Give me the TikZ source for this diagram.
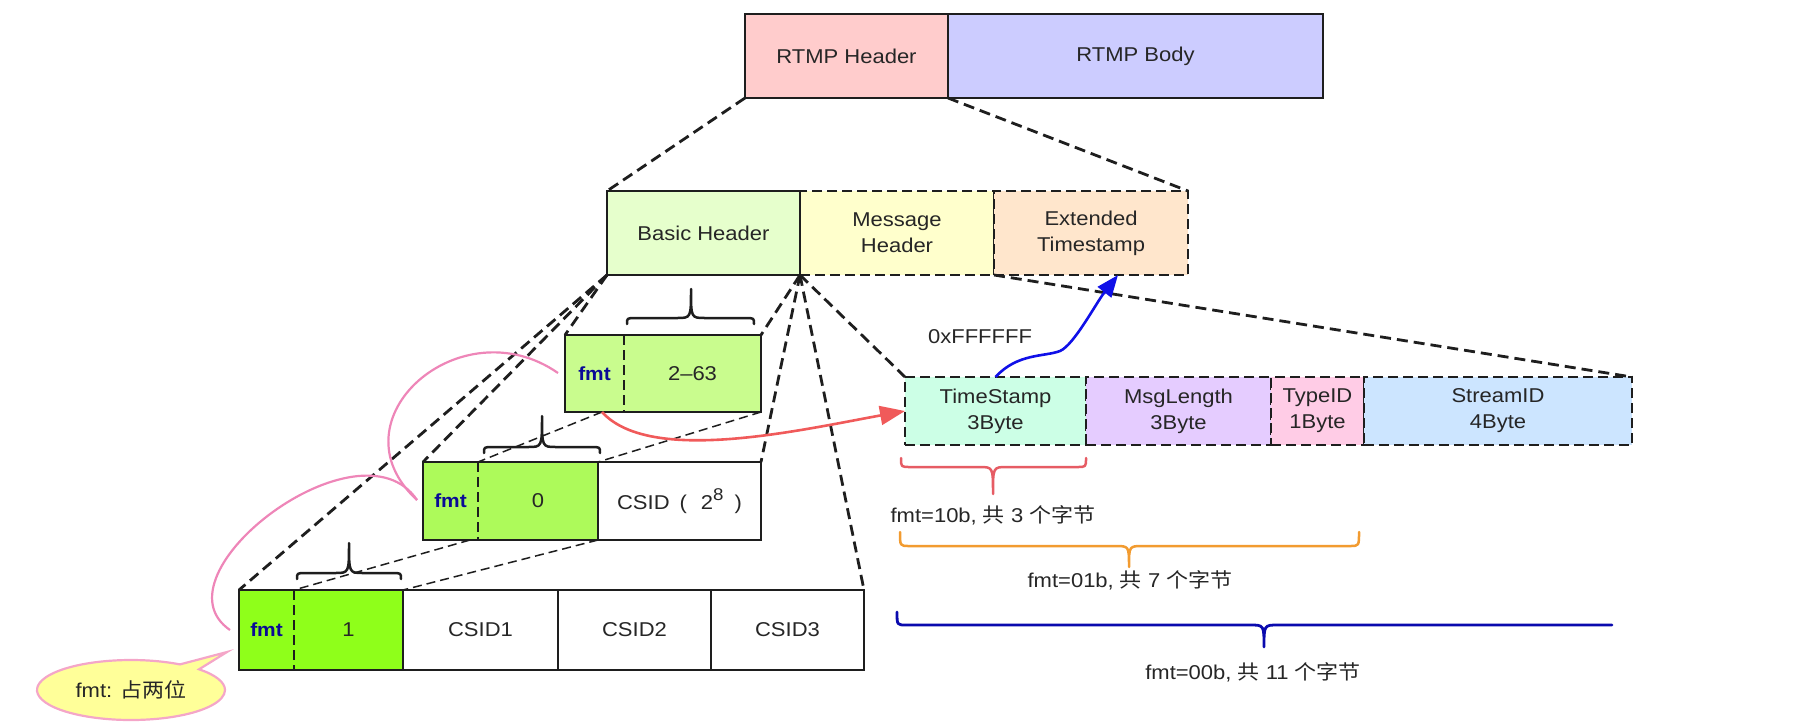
\documentclass[tikz,border=0pt]{standalone}
\usepackage{fontspec}
\setmainfont{Liberation Sans}[FakeStretch=1.1]
\newfontfamily\cjk{Noto Sans CJK SC}[FakeStretch=1.1]
\usetikzlibrary{arrows.meta,calc,shapes.callouts}

\definecolor{ink}{HTML}{262626}
\definecolor{edge}{HTML}{1E1E1E}
\definecolor{fmtblue}{HTML}{0A0A96}
\definecolor{hdrc}{HTML}{FFCCCC}
\definecolor{bodyc}{HTML}{CCCCFF}
\definecolor{bhc}{HTML}{E6FFCC}
\definecolor{mhc}{HTML}{FFFFCC}
\definecolor{etc}{HTML}{FFE6CC}
\definecolor{tsc}{HTML}{CCFFE6}
\definecolor{mlc}{HTML}{E5CCFF}
\definecolor{tic}{HTML}{FFCCE6}
\definecolor{sic}{HTML}{CCE5FF}
\definecolor{gtwo}{HTML}{C9FC8E}
\definecolor{gzero}{HTML}{ADFA5A}
\definecolor{gone}{HTML}{8FFF1A}
\definecolor{arrowred}{HTML}{F05A5A}
\definecolor{arrowblue}{HTML}{1010E8}
\definecolor{loopink}{HTML}{EE86B8}
\definecolor{bracered}{HTML}{E65C64}
\definecolor{braceorange}{HTML}{F29B30}
\definecolor{braceblue}{HTML}{0A0AAE}
\definecolor{bubblefill}{HTML}{FFFF99}
\definecolor{bubbleedge}{HTML}{F4A6C8}

\newcommand\boxfont{\fontsize{20}{26}\selectfont}
\newcommand\fmtfont{\fontsize{19}{22}\selectfont\bfseries}

% curly brace: style, left x, tip x, right x, end y, arm y, tip y
\newcommand\curly[7]{%
  \draw[#1] (#2,#5) .. controls (#2,#6) .. ({#2+9},#6) -- ({#3-14},#6)
    .. controls (#3,#6) .. (#3,#7) .. controls (#3,#6) .. ({#3+14},#6)
    -- ({#4-9},#6) .. controls (#4,#6) .. (#4,#5);}

\begin{document}
\begin{tikzpicture}[x=1pt,y=-1pt,
  cell/.style={anchor=north west, inner sep=0pt, outer sep=0pt, align=center,
    font=\boxfont, text=ink},
  solidframe/.style={draw=edge, line width=2.9pt},
  dashframe/.style={draw=edge, line width=2.9pt, dash pattern=on 10pt off 5pt},
  guide/.style={draw=edge, line width=2.8pt, dash pattern=on 11pt off 6pt},
  thinguide/.style={draw=edge, line width=1.5pt, dash pattern=on 9pt off 5pt},
  fmtcell/.style={cell, font=\fmtfont, text=fmtblue},
  bracepen/.style={line width=2.5pt, line join=round, line cap=round},
  pinkline/.style={draw=loopink, line width=2.2pt},
]
\useasboundingbox (0,0) rectangle (1793,724);

% ---- RTMP message ----
\node[cell, fill=hdrc, solidframe, minimum width=203pt, minimum height=84pt] (hdr) at (745,14) {RTMP Header};
\node[cell, fill=bodyc, solidframe, minimum width=375pt, minimum height=84pt] (body) at (948,14) {RTMP Body};

% ---- chunk header ----
\node[cell, fill=mhc, dashframe, minimum width=194pt, minimum height=84pt] (MH) at (800,191) {Message\\Header};
\node[cell, fill=etc, dashframe, minimum width=194pt, minimum height=84pt] (ET) at (994,191) {Extended\\Timestamp};
\node[cell, fill=bhc, solidframe, minimum width=193pt, minimum height=84pt] (BH) at (607,191) {Basic Header};

% ---- message header fields ----
\node[cell, fill=tsc, dashframe, minimum width=181pt, minimum height=68pt] (TS) at (905,377) {TimeStamp\\3Byte};
\node[cell, fill=mlc, dashframe, minimum width=185pt, minimum height=68pt] (ML) at (1086,377) {MsgLength\\3Byte};
\node[cell, fill=tic, dashframe, minimum width=93pt, minimum height=68pt] (TI) at (1271,377) {TypeID\\1Byte};
\node[cell, fill=sic, dashframe, minimum width=268pt, minimum height=68pt] (SI) at (1364,377) {StreamID\\4Byte};

% ---- basic header variants ----
\node[fmtcell, fill=gtwo, minimum width=59pt, minimum height=77pt] (b2f) at (565,335) {fmt};
\node[cell, fill=gtwo, minimum width=137pt, minimum height=77pt] (b2v) at (624,335) {2–63};
\draw[solidframe] (b2f.north west) rectangle (b2v.south east);
\draw[dashframe] (b2f.north east) -- (b2f.south east);

\node[fmtcell, fill=gzero, minimum width=55pt, minimum height=78pt] (b0f) at (423,462) {fmt};
\node[cell, fill=gzero, minimum width=120pt, minimum height=78pt] (b0v) at (478,462) {0};
\node[cell, fill=white, minimum width=163pt, minimum height=78pt] (b0c) at (598,462)
  {CSID\hspace{10pt}(\hspace{14pt}2\raisebox{9pt}{\fontsize{17}{17}\selectfont 8}\hspace{11pt})};
\draw[solidframe] (b0f.north west) rectangle (b0c.south east);
\draw[solidframe] (b0v.north east) -- (b0v.south east);
\draw[dashframe] (b0f.north east) -- (b0f.south east);

\node[fmtcell, fill=gone, minimum width=55pt, minimum height=80pt] (b1f) at (239,590) {fmt};
\node[cell, fill=gone, minimum width=109pt, minimum height=80pt] (b1v) at (294,590) {1};
\node[cell, fill=white, minimum width=155pt, minimum height=80pt] (c1) at (403,590) {CSID1};
\node[cell, fill=white, minimum width=153pt, minimum height=80pt] (c2) at (558,590) {CSID2};
\node[cell, fill=white, minimum width=153pt, minimum height=80pt] (c3) at (711,590) {CSID3};
\draw[solidframe] (b1f.north west) rectangle (c3.south east);
\draw[solidframe] (b1v.north east) -- (b1v.south east);
\draw[solidframe] (c1.north east) -- (c1.south east);
\draw[solidframe] (c2.north east) -- (c2.south east);
\draw[dashframe] (b1f.north east) -- (b1f.south east);

% ---- expansion guides ----
\draw[guide] (hdr.south west) -- (BH.north west);
\draw[guide] (hdr.south east) -- (ET.north east);
\draw[guide] (BH.south west) -- (b2f.north west);
\draw[guide] (BH.south west) -- (b0f.north west);
\draw[guide] (BH.south west) -- (b1f.north west);
\draw[guide] (BH.south east) -- (b2v.north east);
\draw[guide] (BH.south east) -- (b0c.north east);
\draw[guide] (BH.south east) -- (c3.north east);
\draw[guide] (BH.south east) -- (TS.north west);
\draw[guide] (ET.south west) -- (SI.north east);

\coordinate (r0) at (602,412);
\coordinate (r1) at (470,540);
\draw[thinguide] (r0) -- (b0v.north west);
\draw[thinguide] (b2v.south east) -- (b0v.north east);
\draw[thinguide] (r1) -- (b1v.north west);
\draw[thinguide] (b0v.south east) -- (b1v.north east);

% ---- braces over the chunk stream id cells ----
\curly{bracepen, draw=edge}{627}{691}{754}{324}{318}{289}
\curly{bracepen, draw=edge}{484}{542}{600}{453}{447}{416}
\curly{bracepen, draw=edge}{297}{349}{401}{579}{573}{543}

% ---- braces under the message header fields ----
\curly{bracepen, draw=bracered}{901}{993}{1086}{458}{467}{494}
\curly{bracepen, draw=braceorange}{900}{1129}{1359}{532}{546}{567}
\draw[bracepen, draw=braceblue, line width=2.8pt] (897,612) .. controls (897,625) .. (906,625)
  -- (1250,625) .. controls (1264,625) .. (1264,647) .. controls (1264,625) .. (1278,625) -- (1612,625);

\node[font=\boxfont, text=ink] (t10) at (993,515) {fmt=10b, {\cjk 共} 3 {\cjk 个字节}};
\node[font=\boxfont, text=ink] (t01) at (1130,580) {fmt=01b, {\cjk 共} 7 {\cjk 个字节}};
\node[font=\boxfont, text=ink] (t00) at (1253,672) {fmt=00b, {\cjk 共} 11 {\cjk 个字节}};

% ---- timestamp overflow ----
\node[font=\boxfont, text=ink] (ff) at (980,337) {0xFFFFFF};
\coordinate (bt) at ($(ET.south)+(27,0)$);
\draw[arrowblue, line width=2.6pt, -{Triangle[length=22pt,width=17pt]}]
  (TS.north) .. controls +(22,-24) and +(-16,6) .. (1060,351)
  .. controls +(14,-6) and +(-22,28) .. (bt);

% ---- fmt=10b points to the timestamp ----
\draw[arrowred, line width=2.6pt, -{Triangle[length=25pt,width=19pt]}]
  (r0) .. controls (650,465) and (800,430) .. (TS.west);

% ---- fmt loops ----
\coordinate (pa) at (558,373);
\coordinate (pb) at (417,500);
\coordinate (pc) at (230,630);
\draw[pinkline] (pa) .. controls (460,305) and (330,420) .. (pb);
\draw[pinkline] (pb) .. controls (360,415) and (150,575) .. (pc);

% ---- note ----
\node[ellipse callout, draw=bubbleedge, line width=2.2pt, fill=bubblefill,
  minimum width=188pt, minimum height=60pt, inner sep=0pt,
  callout absolute pointer={(227,652)}, font=\boxfont, text=ink] (note) at (131,690)
  {fmt: {\cjk 占两位}};
\end{tikzpicture}
\end{document}
